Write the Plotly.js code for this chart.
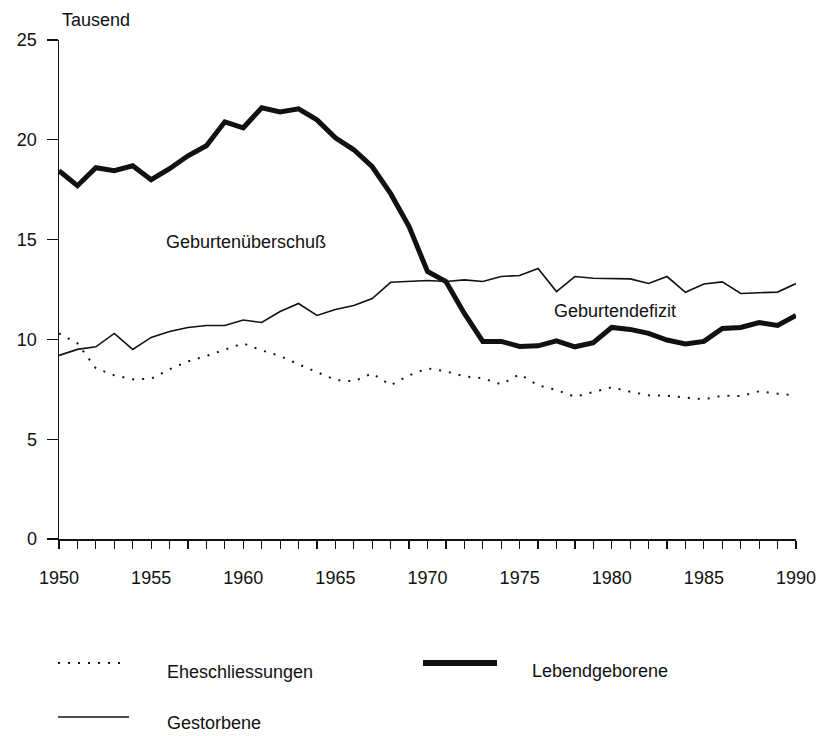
<!DOCTYPE html>
<html>
<head>
<meta charset="utf-8">
<script src="https://cdn.plot.ly/plotly-3.0.1.min.js"></script>
<style>html,body{margin:0;padding:0;background:#fff;}#chart{width:829px;height:736px;}</style>
</head>
<body>
<div id="chart"></div>
<script>
const years = [1950,1951,1952,1953,1954,1955,1956,1957,1958,1959,
               1960,1961,1962,1963,1964,1965,1966,1967,1968,1969,
               1970,1971,1972,1973,1974,1975,1976,1977,1978,1979,
               1980,1981,1982,1983,1984,1985,1986,1987,1988,1989,1990];
const lebendgeborene = [18.45,17.7,18.6,18.45,18.7,18.0,18.55,19.2,19.7,20.9,
                        20.6,21.6,21.4,21.55,21.0,20.1,19.5,18.65,17.3,15.65,
                        13.4,12.9,11.3,9.9,9.9,9.65,9.68,9.93,9.63,9.83,
                        10.6,10.5,10.3,9.97,9.77,9.9,10.55,10.6,10.84,10.7,11.2];
const gestorbene = [9.2,9.5,9.63,10.3,9.5,10.1,10.4,10.6,10.7,10.7,
                    10.97,10.85,11.4,11.8,11.2,11.5,11.7,12.05,12.86,12.9,
                    12.95,12.9,12.98,12.9,13.15,13.2,13.55,12.4,13.15,13.06,
                    13.06,13.03,12.8,13.15,12.36,12.78,12.88,12.3,12.34,12.37,12.8];
const eheschliessungen = [10.3,9.8,8.55,8.2,8.0,8.03,8.5,8.9,9.17,9.47,
                          9.8,9.45,9.17,8.75,8.37,7.97,7.9,8.3,7.7,8.2,
                          8.55,8.4,8.15,8.05,7.75,8.25,7.7,7.46,7.13,7.38,
                          7.6,7.38,7.2,7.18,7.1,7.0,7.18,7.16,7.4,7.28,7.2];
const yTicks = [0,5,10,15,20,25];
const xTicks = [1950,1955,1960,1965,1970,1975,1980,1985,1990];

const FONT = 'Liberation Sans, Arial, Helvetica, sans-serif';

const traces = [
  {x: years, y: eheschliessungen, mode: 'lines', name: 'Eheschliessungen',
   line: {color: '#111', width: 2, dash: '2px,8px'}},
  {x: years, y: gestorbene, mode: 'lines', name: 'Gestorbene',
   line: {color: '#111', width: 1.6}},
  {x: years, y: lebendgeborene, mode: 'lines', name: 'Lebendgeborene',
   line: {color: '#111', width: 5}}
];

// paper-coordinate helpers (plot area: x 59..796 px, y 40..539 px)
const px = v => (v - 59) / 737;
const py = v => (539 - v) / 499;

const layout = {
  width: 829, height: 736,
  margin: {l: 59, r: 33, t: 40, b: 197},
  paper_bgcolor: '#fff', plot_bgcolor: '#fff',
  showlegend: false,
  font: {family: FONT, size: 18, color: '#111'},
  xaxis: {
    range: [1950, 1990], tickvals: xTicks, ticktext: xTicks.map(String),
    ticks: 'outside', ticklen: 8, tickwidth: 1.2, tickcolor: '#111',
    minor: {dtick: 1, tick0: 1950, ticks: 'outside', ticklen: 8, tickwidth: 1.2, tickcolor: '#111', showgrid: false},
    showline: true, linecolor: '#111', linewidth: 1.5,
    showgrid: false, zeroline: false, fixedrange: true,
    tickfont: {family: FONT, size: 18, color: '#111'},
    ticklabelstandoff: 14
  },
  yaxis: {
    range: [0, 25], tickvals: yTicks, ticktext: yTicks.map(String),
    ticks: 'outside', ticklen: 11, tickwidth: 1.2, tickcolor: '#111',
    showline: true, linecolor: '#111', linewidth: 1.5,
    showgrid: false, zeroline: false, fixedrange: true,
    tickfont: {family: FONT, size: 18, color: '#111'},
    ticklabelstandoff: 6
  },
  annotations: [
    {text: 'Tausend', xref: 'paper', yref: 'paper', x: px(60), y: py(20), xanchor: 'left', yanchor: 'middle', showarrow: false, font: {size: 18}},
    {text: 'Geburtenüberschuß', xref: 'paper', yref: 'paper', x: px(164), y: py(242), xanchor: 'left', yanchor: 'middle', showarrow: false, font: {size: 18}},
    {text: 'Geburtendefizit', xref: 'paper', yref: 'paper', x: px(552), y: py(311), xanchor: 'left', yanchor: 'middle', showarrow: false, font: {size: 18}},
    {text: 'Eheschliessungen', xref: 'paper', yref: 'paper', x: px(165), y: py(672), xanchor: 'left', yanchor: 'middle', showarrow: false, font: {size: 18}},
    {text: 'Lebendgeborene', xref: 'paper', yref: 'paper', x: px(530), y: py(671), xanchor: 'left', yanchor: 'middle', showarrow: false, font: {size: 18}},
    {text: 'Gestorbene', xref: 'paper', yref: 'paper', x: px(165), y: py(723), xanchor: 'left', yanchor: 'middle', showarrow: false, font: {size: 18}}
  ],
  shapes: [
    {type: 'line', xref: 'paper', yref: 'paper', x0: px(58), x1: px(123), y0: py(663), y1: py(663), line: {color: '#111', width: 2, dash: '2px,8px'}},
    {type: 'line', xref: 'paper', yref: 'paper', x0: px(423), x1: px(497), y0: py(663), y1: py(663), line: {color: '#111', width: 6}},
    {type: 'line', xref: 'paper', yref: 'paper', x0: px(58), x1: px(129), y0: py(717), y1: py(717), line: {color: '#111', width: 1.6}}
  ]
};

Plotly.newPlot('chart', traces, layout, {displayModeBar: false, staticPlot: true});
</script>
</body>
</html>
